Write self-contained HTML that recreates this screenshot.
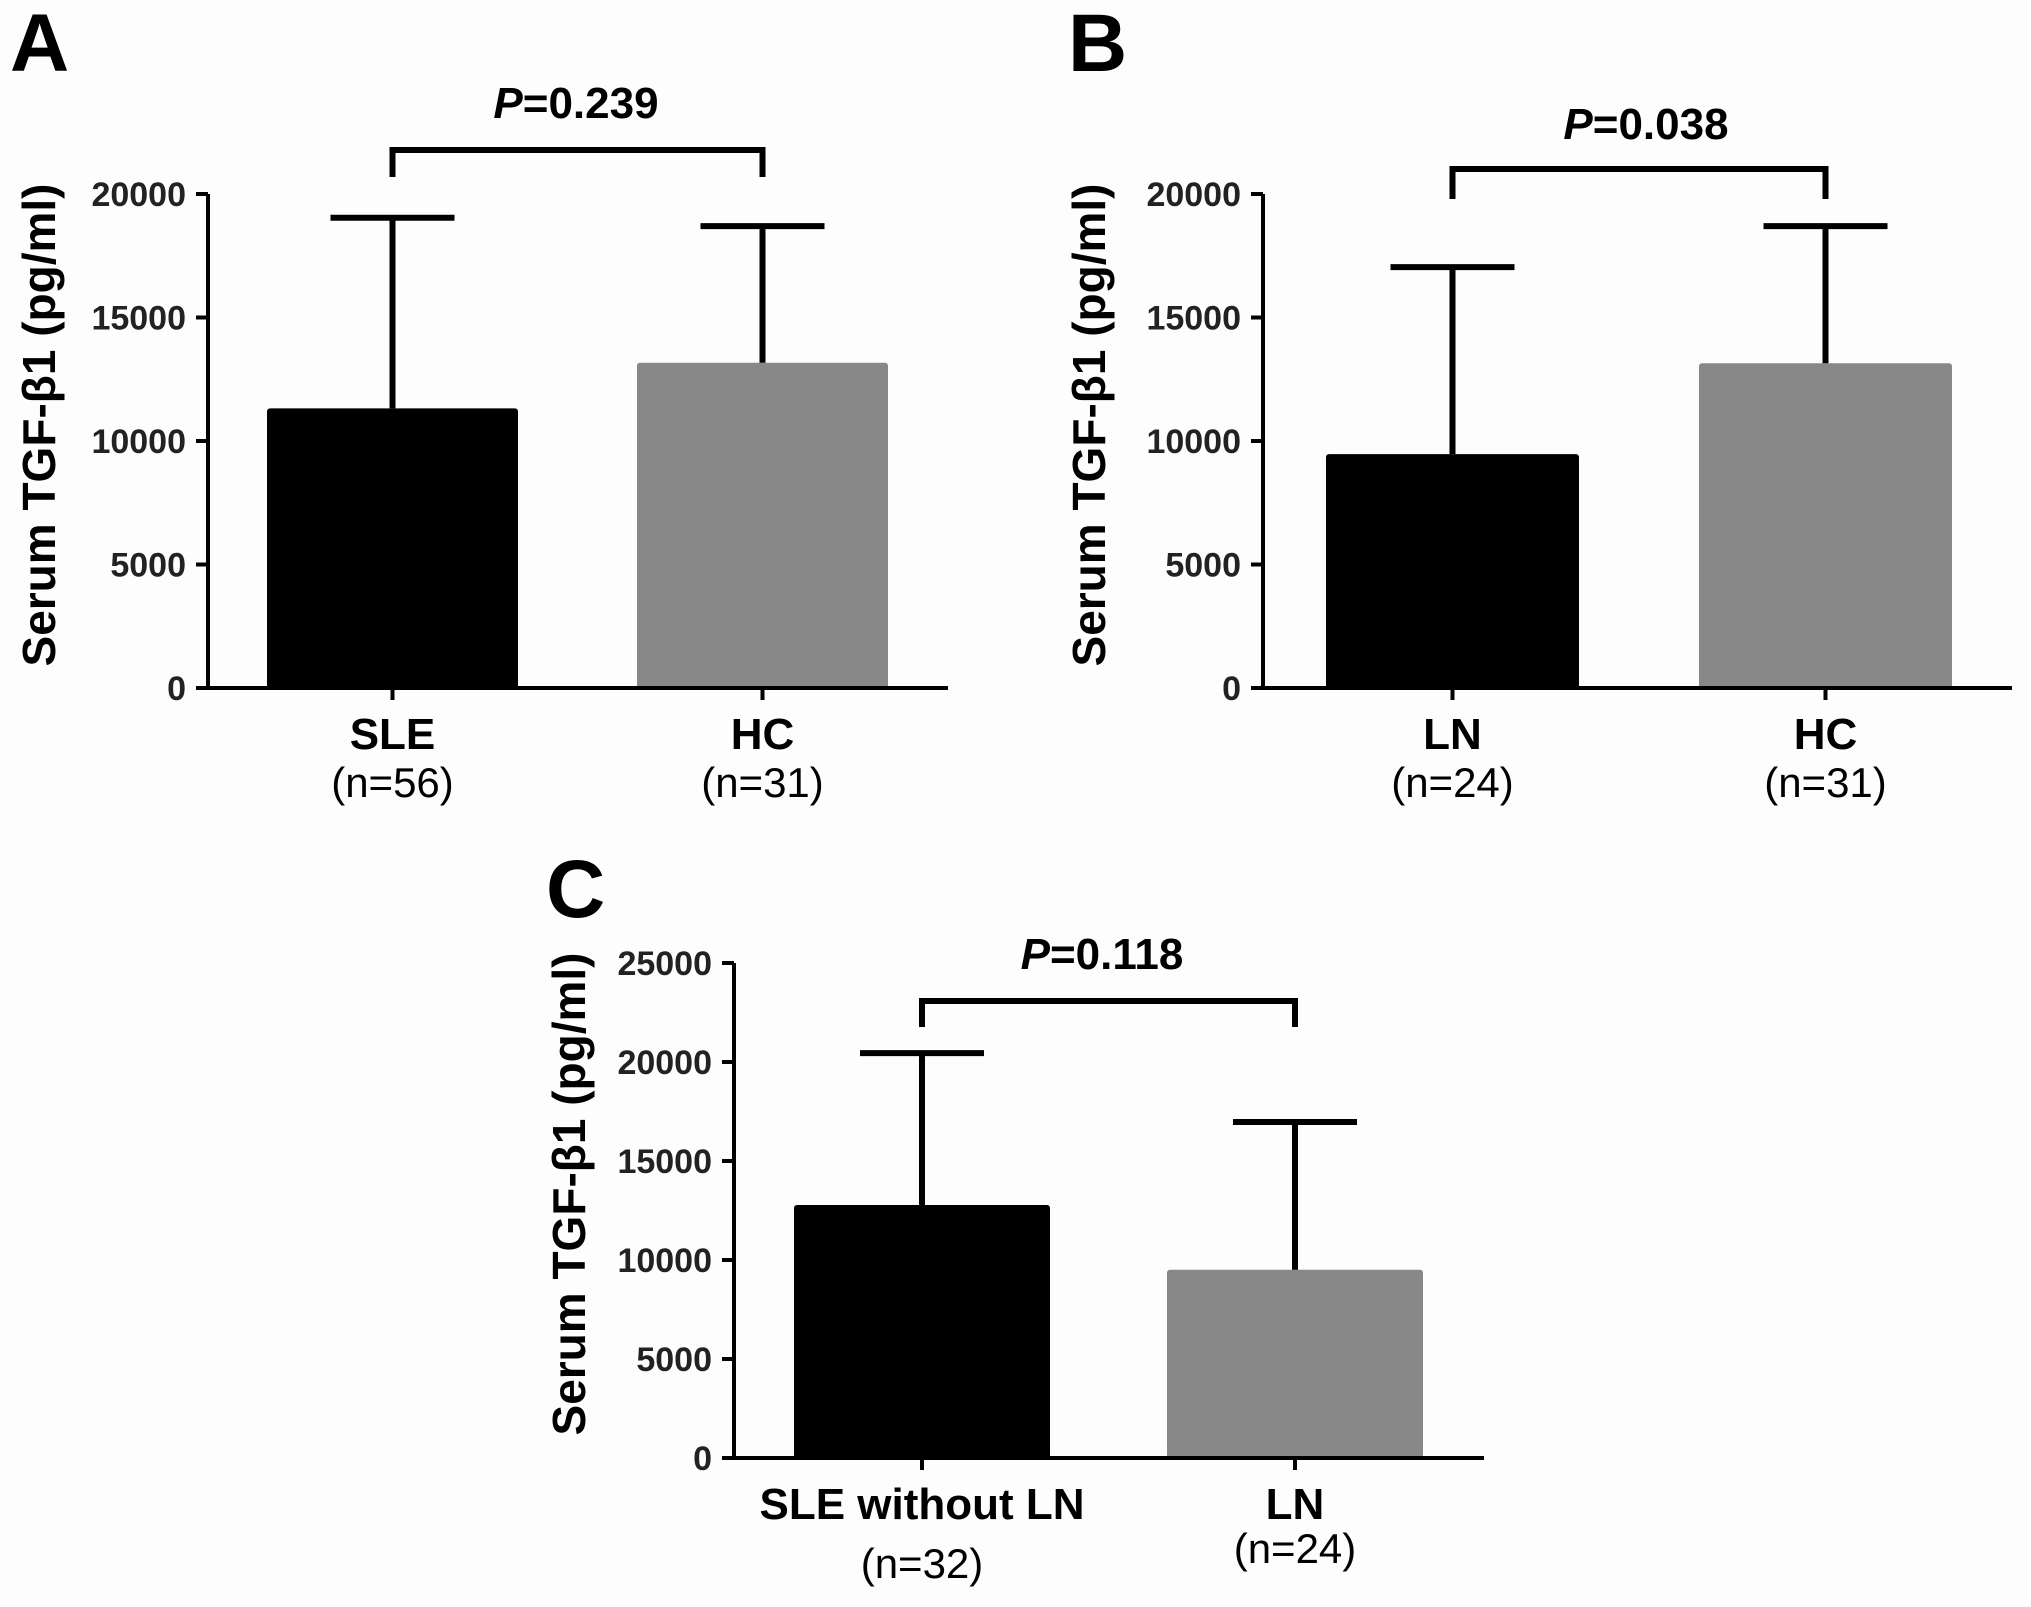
<!DOCTYPE html>
<html><head><meta charset="utf-8"><style>
html,body{margin:0;padding:0;background:#fdfdfd;}
svg{display:block;font-family:"Liberation Sans",Arial,sans-serif;}
</style></head><body>
<svg id="fig" width="2031" height="1607" viewBox="0 0 2031 1607">
<rect width="2031" height="1607" fill="#fdfdfd"/>
</svg>
<script>
// Panel A
const catsA = ["SLE","HC"];
const nA = ["(n=56)","(n=31)"];
const meanA = [11320, 13170];
const errA = [19040, 18700];
const ticksA = [0,5000,10000,15000,20000];
const pA = "=0.239";
// Panel B
const catsB = ["LN","HC"];
const nB = ["(n=24)","(n=31)"];
const meanB = [9470, 13150];
const errB = [17040, 18700];
const ticksB = [0,5000,10000,15000,20000];
const pB = "=0.038";
// Panel C
const catsC = ["SLE without LN","LN"];
const nC = ["(n=32)","(n=24)"];
const meanC = [12780, 9510];
const errC = [20450, 16970];
const ticksC = [0,5000,10000,15000,20000,25000];
const pC = "=0.118";

const NS = "http://www.w3.org/2000/svg";
const svg = document.getElementById('fig');
function mk(tag, attrs, parent){
  const e = document.createElementNS(NS, tag);
  for (const k in attrs) e.setAttribute(k, attrs[k]);
  (parent||svg).appendChild(e);
  return e;
}
function txt(s, attrs, parent){ const t = mk('text', attrs, parent); t.textContent = s; return t; }

function panel(cfg){
  const g = mk('g', {});
  
  
  const ymax = cfg.ticks[cfg.ticks.length-1];
  const y = v => cfg.y0 - (v / ymax) * (cfg.y0 - cfg.yTop);
  const colors = ["#000000", "#888888"];
  const L = txt(cfg.id, {x: cfg.letterX, y: cfg.letterY, 'font-size': 82, 'font-weight': 'bold', fill: '#000'}, g);
  
  
  cfg.means.forEach((m, i) => {
    const x0 = cfg.barX[i], w = cfg.barW;
    const b = mk('rect', {x: x0, y: y(m), width: w, height: cfg.y0 - y(m), fill: colors[i], rx: 3}, g);
    
    
    const cx = x0 + w/2;
    const eb = mk('path', {d: `M${cx},${y(m)} V${y(cfg.errs[i])} M${cx-62},${y(cfg.errs[i])} H${cx+62}`, stroke: '#000', 'stroke-width': 6, fill: 'none'}, g);
    
    
    mk('line', {x1: cx, x2: cx, y1: cfg.y0, y2: cfg.y0 + 12, stroke: '#000', 'stroke-width': 4}, g);
    const cl = txt(cfg.cats[i], {x: cx, y: cfg.catY, 'font-size': 44, 'font-weight': 'bold', 'text-anchor': 'middle'}, g);
    
    
    const nl = txt(cfg.ns[i], {x: cx, y: cfg.nY[i], 'font-size': 42, 'text-anchor': 'middle'}, g);
    
    
  });
  const ax = mk('path', {d: `M${cfg.axX},${y(ymax)} V${cfg.y0} H${cfg.xEnd}`, stroke: '#000', 'stroke-width': 4, fill: 'none'}, g);
  
  
  cfg.ticks.forEach(t => {
    mk('line', {x1: cfg.axX - 12, x2: cfg.axX, y1: y(t), y2: y(t), stroke: '#000', 'stroke-width': 4}, g);
    const tl = txt(String(t), {x: cfg.axX - 22, y: y(t) + 12, 'font-size': 34, 'font-weight': 'bold', 'text-anchor': 'end', fill: '#222'}, g);
    
    
  });
  const yt = txt('Serum TGF-β1 (pg/ml)', {x: 0, y: 0, 'font-size': 46, 'font-weight': 'bold', 'text-anchor': 'middle',
    transform: `translate(${cfg.titleX},${cfg.titleY}) rotate(-90)`}, g);
  
  
  const c1 = cfg.barX[0] + cfg.barW/2, c2 = cfg.barX[1] + cfg.barW/2;
  const br = mk('path', {d: `M${c1},${cfg.brLow} V${cfg.brY} H${c2} V${cfg.brLow}`, stroke: '#000', 'stroke-width': 6, fill: 'none'}, g);
  
  
  const pt = txt('', {x: cfg.pX, y: cfg.pY, 'font-size': 44, 'font-weight': 'bold', 'text-anchor': 'middle'}, g);
  const ts = mk('tspan', {'font-style': 'italic'}, pt); ts.textContent = 'P';
  const ts2 = mk('tspan', {}, pt); ts2.textContent = cfg.p;
  
  
}

panel({id:'A', cats:catsA, ns:nA, means:meanA, errs:errA, ticks:ticksA, p:pA,
  axX:208, y0:688, yTop:194, xEnd:948, barX:[267,637], barW:251,
  letterX:10, letterY:71, titleX:55, titleY:425, catY:749, nY:[797,797],
  brY:150, brLow:177, pX:576, pY:118});
panel({id:'B', cats:catsB, ns:nB, means:meanB, errs:errB, ticks:ticksB, p:pB,
  axX:1263, y0:688, yTop:194, xEnd:2012, barX:[1326,1699], barW:253,
  letterX:1068, letterY:71, titleX:1105, titleY:425, catY:749, nY:[797,797],
  brY:169, brLow:199, pX:1646, pY:139});
panel({id:'C', cats:catsC, ns:nC, means:meanC, errs:errC, ticks:ticksC, p:pC,
  axX:734, y0:1458, yTop:963, xEnd:1484, barX:[794,1167], barW:256,
  letterX:546, letterY:917, titleX:585, titleY:1194, catY:1519, nY:[1578,1563],
  brY:1001, brLow:1027, pX:1102, pY:969});
</script>
</body></html>
